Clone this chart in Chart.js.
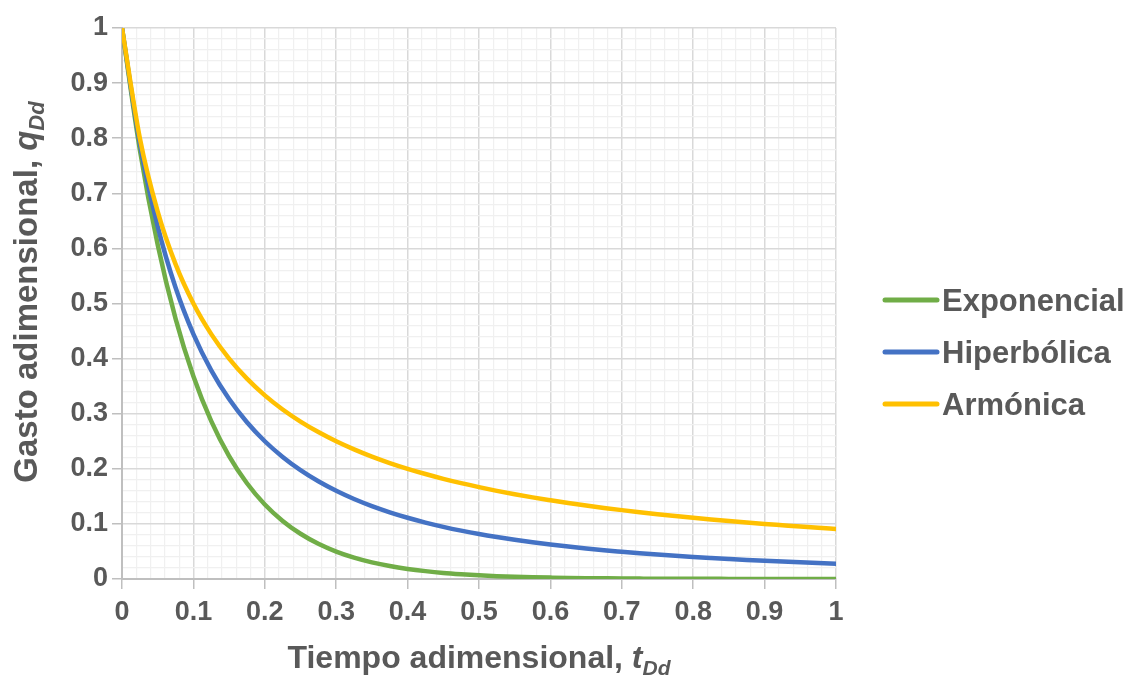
<!DOCTYPE html>
<html>
<head>
<meta charset="utf-8">
<script src="https://cdn.jsdelivr.net/npm/chart.js@4/dist/chart.umd.min.js"></script>
<style>
  html, body { margin: 0; padding: 0; background: #fff; }
  #wrap { width: 1135px; height: 677px; }
</style>
</head>
<body>
<div id="wrap"><canvas id="declineChart" width="1135" height="677"></canvas></div>
<script>
// --- datos ---
const tDd = [0, 0.025, 0.05, 0.075, 0.1, 0.125, 0.15, 0.175, 0.2, 0.225, 0.25, 0.275, 0.3, 0.325, 0.35, 0.375, 0.4, 0.425, 0.45, 0.475, 0.5,
  0.525, 0.55, 0.575, 0.6, 0.625, 0.65, 0.675, 0.7, 0.725, 0.75, 0.775, 0.8, 0.825, 0.85, 0.875, 0.9, 0.925, 0.95, 0.975, 1];

const exponencial = [1, 0.7788, 0.6065, 0.4724, 0.3679, 0.2865, 0.2231, 0.1738, 0.1353, 0.1054, 0.0821, 0.0639, 0.0498, 0.0388, 0.0302, 0.0235, 0.0183, 0.0143, 0.0111, 0.0087, 0.0067,
  0.0052, 0.0041, 0.0032, 0.0025, 0.0019, 0.0015, 0.0012, 0.0009, 0.0007, 0.0006, 0.0004, 0.0003, 0.0003, 0.0002, 0.0002, 0.0001, 0.0001, 0.0001, 0.0001, 0.0000];

const hiperbolica = [1, 0.7901, 0.6400, 0.5289, 0.4444, 0.3787, 0.3265, 0.2844, 0.2500, 0.2215, 0.1975, 0.1773, 0.1600, 0.1451, 0.1322, 0.1210, 0.1111, 0.1024, 0.0947, 0.0878, 0.0816,
  0.0761, 0.0711, 0.0666, 0.0625, 0.0588, 0.0554, 0.0522, 0.0494, 0.0467, 0.0443, 0.0421, 0.0400, 0.0381, 0.0363, 0.0346, 0.0331, 0.0316, 0.0302, 0.0290, 0.0278];

const armonica = [1, 0.8000, 0.6667, 0.5714, 0.5000, 0.4444, 0.4000, 0.3636, 0.3333, 0.3077, 0.2857, 0.2667, 0.2500, 0.2353, 0.2222, 0.2105, 0.2000, 0.1905, 0.1818, 0.1739, 0.1667,
  0.1600, 0.1538, 0.1481, 0.1429, 0.1379, 0.1333, 0.1290, 0.1250, 0.1212, 0.1176, 0.1143, 0.1111, 0.1081, 0.1053, 0.1026, 0.1000, 0.0976, 0.0952, 0.0930, 0.0909];

const seriesNames = ["Exponencial", "Hiperbólica", "Armónica"];
const seriesColors = ["#70ad47", "#4472c4", "#ffc000"];

// --- estilos ---
const FONT = "'Liberation Sans', Arial, sans-serif";
const TEXT = "#595959";

const toPoints = vals => tDd.map((t, i) => ({ x: t, y: vals[i] }));
const isMajor = v => Math.abs(v * 10 - Math.round(v * 10)) < 1e-6;

function gridColor(ctx) {
  if (!ctx.tick) return "#d9d9d9";
  return isMajor(ctx.tick.value) ? "#d9d9d9" : "#f0f0f0";
}
function gridWidth(ctx) {
  if (!ctx.tick) return 1.5;
  return isMajor(ctx.tick.value) ? 1.5 : 1.2;
}
function tickMarkColor(ctx) {
  if (!ctx.tick) return "#bfbfbf";
  return isMajor(ctx.tick.value) ? "#bfbfbf" : "rgba(0,0,0,0)";
}
function tickLabel(v) {
  return isMajor(v) ? String(Math.round(v * 10) / 10) : "";
}

// texto con partes en cursiva / subindice
function drawRuns(ctx, runs, cx, baseline) {
  let total = 0;
  runs.forEach(r => { ctx.font = r.font; r.w = ctx.measureText(r.text).width; total += r.w; });
  let x = cx - total / 2;
  ctx.textAlign = "left";
  ctx.textBaseline = "alphabetic";
  runs.forEach(r => {
    ctx.font = r.font;
    ctx.fillText(r.text, x, baseline + (r.dy || 0));
    x += r.w;
  });
}

const titlesAndLegend = {
  id: "titlesAndLegend",
  afterDraw(chart) {
    const ctx = chart.ctx;
    const area = chart.chartArea;
    ctx.save();
    ctx.fillStyle = TEXT;

    // titulo eje x
    drawRuns(ctx, [
      { text: "Tiempo adimensional, ", font: "bold 32px " + FONT },
      { text: "t", font: "italic bold 32px " + FONT },
      { text: "Dd", font: "italic bold 21px " + FONT, dy: 7 },
    ], (area.left + area.right) / 2, 668);

    // titulo eje y
    ctx.save();
    ctx.translate(37, 292);
    ctx.rotate(-Math.PI / 2);
    drawRuns(ctx, [
      { text: "Gasto adimensional, ", font: "bold 33px " + FONT },
      { text: "q", font: "italic bold 33px " + FONT },
      { text: "Dd", font: "italic bold 22px " + FONT, dy: 7 },
    ], 0, 0);
    ctx.restore();

    // leyenda
    seriesNames.forEach((name, i) => {
      const y = 300 + i * 52;
      ctx.strokeStyle = seriesColors[i];
      ctx.lineWidth = 5;
      ctx.lineCap = "round";
      ctx.beginPath();
      ctx.moveTo(885, y);
      ctx.lineTo(937, y);
      ctx.stroke();
      ctx.fillStyle = TEXT;
      ctx.font = "bold 31px " + FONT;
      ctx.textAlign = "left";
      ctx.textBaseline = "alphabetic";
      ctx.fillText(name, 942, y + 11);
    });
    ctx.restore();
  }
};

const datasets = [exponencial, hiperbolica, armonica].map((vals, i) => ({
  label: seriesNames[i],
  data: toPoints(vals),
  borderColor: seriesColors[i],
  backgroundColor: seriesColors[i],
  borderWidth: 4.5,
  pointRadius: 0,
  borderCapStyle: "round",
  cubicInterpolationMode: "monotone",
  fill: false,
  order: 2 - i,
}));

const chart = new Chart(document.getElementById("declineChart").getContext("2d"), {
  type: "line",
  data: { datasets },
  options: {
    responsive: false,
    animation: false,
    layout: { padding: { top: 28, right: 299, bottom: 0, left: 0 } },
    plugins: {
      legend: { display: false },
      tooltip: { enabled: false },
    },
    scales: {
      x: {
        type: "linear",
        min: 0,
        max: 1,
        afterFit: s => { s.height = 98; },
        border: { color: "#bfbfbf", width: 2 },
        grid: { color: gridColor, lineWidth: gridWidth, tickColor: tickMarkColor, tickLength: 10, tickWidth: 1.5 },
        ticks: {
          stepSize: 0.02,
          autoSkip: false,
          maxRotation: 0,
          padding: 7,
          color: TEXT,
          font: { family: FONT, size: 27, weight: "bold" },
          callback: tickLabel,
        },
      },
      y: {
        min: 0,
        max: 1,
        afterFit: s => { s.width = 122; },
        border: { color: "#bfbfbf", width: 2 },
        grid: { color: gridColor, lineWidth: gridWidth, tickColor: tickMarkColor, tickLength: 10, tickWidth: 1.5 },
        ticks: {
          stepSize: 0.02,
          autoSkip: false,
          padding: 4,
          color: TEXT,
          font: { family: FONT, size: 27, weight: "bold" },
          callback: tickLabel,
        },
      },
    },
  },
  plugins: [titlesAndLegend],
});
</script>
</body>
</html>
